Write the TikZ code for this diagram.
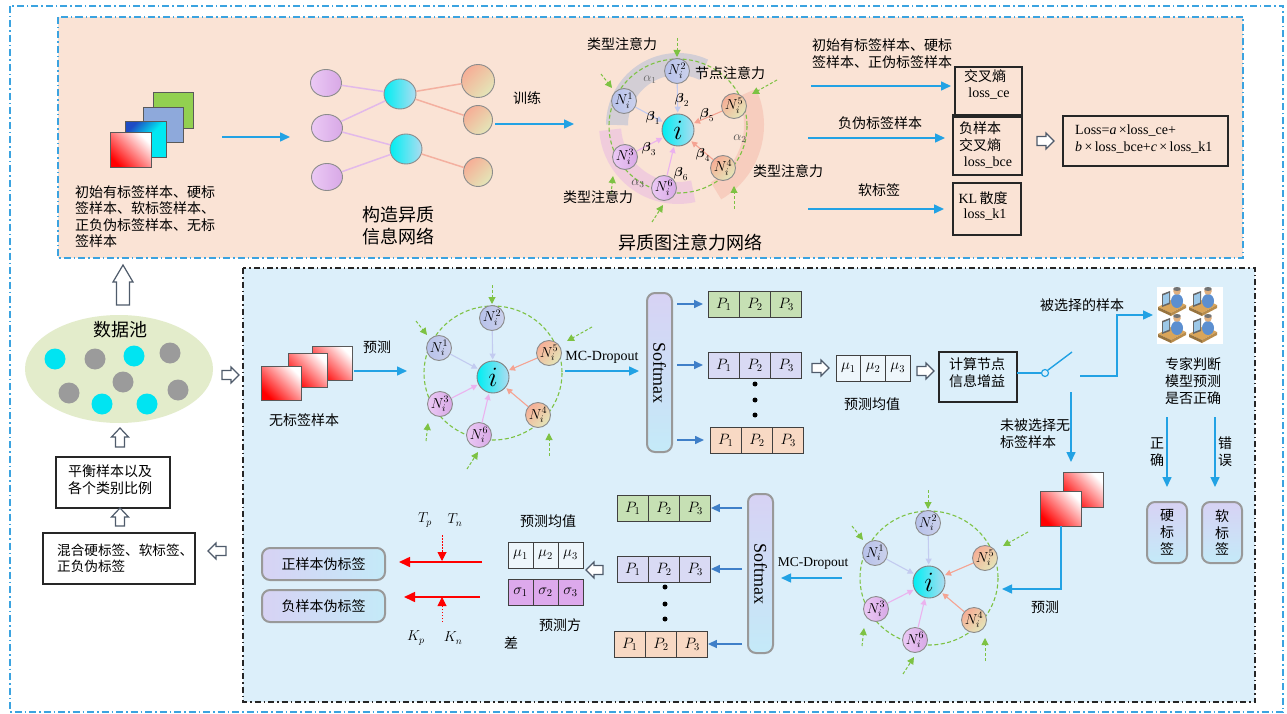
\documentclass[tikz,border=0pt]{standalone}
\usepackage{fix-cm}
\usepackage{amsmath}
\usepackage{fontspec}
\setmainfont{Liberation Serif}
\newfontfamily\zhfont{Noto Sans CJK SC}
\usetikzlibrary{arrows.meta,calc,shapes.geometric}

% colours
\definecolor{skyline}{HTML}{22A2E4}
\definecolor{frameblue}{HTML}{3BA3E0}
\definecolor{toppink}{HTML}{FAE3D5}
\definecolor{lowblue}{HTML}{DCEFFA}
\definecolor{poolgreen}{HTML}{E3ECCB}
\definecolor{dotcyan}{HTML}{00E4F2}
\definecolor{dotgray}{HTML}{9B9B9B}
\definecolor{steel}{HTML}{3F7FC8}
\definecolor{cellgreen}{HTML}{C6E0B4}
\definecolor{celllav}{HTML}{D9DAF4}
\definecolor{cellpeach}{HTML}{F8D9C4}
\definecolor{cellviolet}{HTML}{DDA9EC}
\definecolor{cellwhite}{HTML}{EEF6FB}
\definecolor{ringgreen}{HTML}{7DC243}
\definecolor{nbblue}{HTML}{B7C1EA}
\definecolor{nbblueR}{HTML}{CBD1EC}
\definecolor{nbpurple}{HTML}{EBC9F5}
\definecolor{nbpurpleR}{HTML}{D8A8E6}
\definecolor{nbsalmon}{HTML}{F6AE96}
\definecolor{nbcream}{HTML}{E4E6B8}
\definecolor{hubcyan}{HTML}{00EEF2}
\definecolor{hubpale}{HTML}{AEDCF1}
\definecolor{edgeblue}{HTML}{C3CBF0}
\definecolor{edgesalmon}{HTML}{F5A392}
\definecolor{edgepink}{HTML}{EBB2EE}
\definecolor{netpurple}{HTML}{E2B9EA}
\definecolor{netsalmon}{HTML}{F4B0A0}
\definecolor{capsuleL}{HTML}{D7D2F4}
\definecolor{capsuleR}{HTML}{C4EAF8}
\definecolor{hollowedge}{HTML}{4F5B6B}
\definecolor{bandblue}{HTML}{B4BED6}
\definecolor{bandpurple}{HTML}{E6B2E6}
\definecolor{bandsalmon}{HTML}{F4B4A4}
\definecolor{sqgreen}{HTML}{92D050}
\definecolor{sqslate}{HTML}{8EA9DB}
\definecolor{sqcyan}{HTML}{00E8F2}
\definecolor{sqdeep}{HTML}{1E4CC4}
\definecolor{deskc}{HTML}{D9A55A}
\definecolor{shirtc}{HTML}{5C8FD0}
\definecolor{skinc}{HTML}{E0B080}
\definecolor{screenc}{HTML}{9CC8E8}

\tikzset{
  zh/.style={inner sep=0pt, align=center, font=\zhfont\fontsize{14}{16.8}\selectfont},
  zhbig/.style={inner sep=0pt, align=center, font=\zhfont\fontsize{18}{21.5}\selectfont},
  rmtext/.style={inner sep=0pt, font=\rmfamily\fontsize{14}{17}\selectfont},
  greek/.style={inner sep=0pt, font=\fontsize{13}{13}\selectfont},
  skyarr/.style={draw=skyline, line width=1.5pt, -{Triangle[length=10pt,width=9pt]}},
  skywire/.style={draw=skyline, line width=1.4pt},
  steelarr/.style={draw=steel, line width=1.6pt, -{Triangle[length=9pt,width=8pt]}},
  redarr/.style={draw=red, line width=1.6pt, -{Triangle[length=11pt,width=10pt]}},
  reddot/.style={draw=red, line width=1pt, dash pattern=on 1.5pt off 1.5pt, -{Triangle[length=9pt,width=9pt]}},
  blackbox/.style={draw=black!85, line width=1.2pt, inner sep=0pt, outer sep=0pt, anchor=north west},
  hollowst/.style={draw=hollowedge, line width=1.2pt, fill=white, line join=miter},
  ringst/.style={draw=ringgreen, line width=1.1pt, dash pattern=on 4pt off 2.5pt},
  greenarr/.style={draw=ringgreen, line width=1pt, dash pattern=on 3pt off 2pt, -{Triangle[length=7pt,width=7pt]}},
  gnode/.style={circle, draw=black!45, line width=0.9pt, minimum size=25pt, inner sep=0pt, font=\fontsize{14.4}{14.4}\selectfont},
  gblue/.style={gnode, left color=nbblue, right color=nbblueR},
  gpurple/.style={gnode, left color=nbpurple, right color=nbpurpleR},
  warmshade/.style={top color=nbsalmon, bottom color=nbcream, shading angle=45},
  gorange/.style={gnode, warmshade},
  ghub/.style={circle, draw=black!50, line width=0.9pt, minimum size=32pt, inner sep=0pt, left color=hubcyan, right color=hubpale, font=\fontsize{28}{28}\selectfont},
  nbarr/.style={line width=1.1pt, -{Triangle[length=6pt,width=6pt]}, shorten >=1pt},
  netL/.style={ellipse, draw=black!45, line width=0.9pt, minimum width=31pt, minimum height=27pt, inner sep=0pt, left color=nbpurple, right color=nbpurpleR},
  netM/.style={ellipse, draw=black!45, line width=0.9pt, minimum width=32pt, minimum height=30pt, inner sep=0pt, left color=hubcyan, right color=hubpale},
  netR/.style={circle, draw=black!45, line width=0.9pt, inner sep=0pt, warmshade},
  netedgeP/.style={draw=netpurple, line width=1.5pt},
  netedgeS/.style={draw=netsalmon, line width=1.5pt},
  cell/.style={draw=black!75, line width=1pt, inner sep=0pt, outer sep=0pt, minimum height=26pt, font=\fontsize{15}{15}\selectfont},
  capsule/.style={draw=black!40, line width=2pt, rounded corners=8pt, inner sep=0pt, left color=capsuleL, right color=capsuleR},
  vcapsule/.style={draw=black!40, line width=2pt, rounded corners=8pt, inner sep=0pt, top color=capsuleL, bottom color=capsuleR},
  sqedge/.style={draw=black!65, line width=1pt},
  redsq/.style={bottom color=red, top color=white, shading angle=-45},
  cyansq/.style={top color=sqdeep, bottom color=sqcyan, middle color=sqcyan, shading angle=45},
  dotst/.style={circle, inner sep=0pt, minimum size=21pt},
  bigdot/.style={circle, fill=black, inner sep=0pt, minimum size=5pt},
}

% hollow block arrow: tail x, tail y, direction, length, shaft half width, head half width, head length
\newcommand\hollowarrow[7]{%
  \draw[hollowst, shift={(#1,#2)}, rotate=#3]
    (0,-#5) -- (#4-#7,-#5) -- (#4-#7,-#6) -- (#4,0) -- (#4-#7,#6) -- (#4-#7,#5) -- (0,#5) -- cycle;}

% row of three labelled cells: name, left, top, cell width, fill, symbol
\newcommand\cellrow[6]{%
  \node[cell, fill=#5, minimum width=#4, anchor=north west] (#1a) at (#2,#3) {$#6_1$};
  \node[cell, fill=#5, minimum width=#4, anchor=west] (#1b) at (#1a.east) {$#6_2$};
  \node[cell, fill=#5, minimum width=#4, anchor=west] (#1c) at (#1b.east) {$#6_3$};}

% attention graph around a hub: prefix, hub x, hub y
\newcommand\hgraph[3]{%
  \begin{scope}[shift={(#2,#3)}]
    \draw[ringst] (0,-4) ellipse[x radius=69, y radius=67];
    \node[ghub] (#1i) at (0,0) {$i$};
    \node[gblue]   (#1n1) at (-54,-29) {$N_i^1$};
    \node[gblue]   (#1n2) at (-1,-59)  {$N_i^2$};
    \node[gpurple] (#1n3) at (-53,27)  {$N_i^3$};
    \node[gorange] (#1n4) at (45,38)   {$N_i^4$};
    \node[gorange] (#1n5) at (56,-24)  {$N_i^5$};
    \node[gpurple] (#1n6) at (-14,58)  {$N_i^6$};
    \draw[nbarr, draw=edgeblue]   (#1n1) -- (#1i);
    \draw[nbarr, draw=edgeblue]   (#1n2) -- (#1i);
    \draw[nbarr, draw=edgepink]   (#1n3) -- (#1i);
    \draw[nbarr, draw=edgepink]   (#1n6) -- (#1i);
    \draw[nbarr, draw=edgesalmon] (#1n4) -- (#1i);
    \draw[nbarr, draw=edgesalmon] (#1n5) -- (#1i);
    \coordinate (#1g1s) at (-77,-56); \coordinate (#1g1e) at (-66,-42);
    \coordinate (#1g2s) at (-1,-92);  \coordinate (#1g2e) at (-1,-73);
    \coordinate (#1g3s) at (-67,64);  \coordinate (#1g3e) at (-65,46);
    \coordinate (#1g4s) at (56,79);   \coordinate (#1g4e) at (56,56);
    \coordinate (#1g5s) at (99,-50);  \coordinate (#1g5e) at (74,-36);
    \coordinate (#1g6s) at (-26,92);  \coordinate (#1g6e) at (-15,75);
    \draw[greenarr] (#1g1s) -- (#1g1e);
    \draw[greenarr] (#1g2s) -- (#1g2e);
    \draw[greenarr] (#1g3s) -- (#1g3e);
    \draw[greenarr] (#1g4s) -- (#1g4e);
    \draw[greenarr] (#1g5s) -- (#1g5e);
    \draw[greenarr] (#1g6s) -- (#1g6e);
  \end{scope}}

% one expert seated at a desk
\newcommand\expertfig[2]{%
  \begin{scope}[shift={(#1,#2)}]
    \fill[deskc] (-14,5) -- (-1,11) -- (14,3) -- (1,-3) -- cycle;
    \fill[deskc!70!black] (-14,5) -- (-1,11) -- (-1,14) -- (-14,8) -- cycle;
    \fill[deskc!85!black] (-1,11) -- (14,3) -- (14,6) -- (-1,14) -- cycle;
    \fill[black!60] (-10,-8) -- (-2,-11) -- (-2,2) -- (-10,5) -- cycle;
    \fill[screenc] (-9,-6.5) -- (-3,-9) -- (-3,0.5) -- (-9,3) -- cycle;
    \fill[shirtc] (5,-1) ellipse[x radius=6, y radius=7];
    \fill[skinc] (5,-11) circle[radius=3.8];
    \fill[black!55] (5,-13) ellipse[x radius=3.8, y radius=2];
  \end{scope}}

\begin{document}
\begin{tikzpicture}[x=1pt,y=-1pt]
\useasboundingbox (0,0) rectangle (1287,714);
\fill[white] (0,0) rectangle (1287,714);

% ---------- frames ----------
\draw[frameblue, line width=1.6pt, dash pattern=on 7pt off 3pt on 1.5pt off 3pt] (10,6) rectangle (1283,712);
\draw[frameblue, fill=toppink, line width=1.6pt, dash pattern=on 7pt off 3pt on 1.5pt off 3pt] (58,17) rectangle (1243,258);
\draw[black!85, fill=lowblue, line width=1.4pt, dash pattern=on 6pt off 3pt on 1.5pt off 3pt] (243,268) rectangle (1255,702);

% ---------- training stage ----------
\draw[sqedge, fill=sqgreen] (153,93) rectangle (193,129);
\draw[sqedge, fill=sqslate] (143,108) rectangle (183,143);
\draw[sqedge, cyansq] (125,122) rectangle (166,158);
\draw[sqedge, redsq] (110,133) rectangle (151,168);
\node[zh, align=left, anchor=west, font=\zhfont\fontsize{14}{16.5}\selectfont] (stocktxt) at (75,216.5)
  {初始有标签样本、硬标\\签样本、软标签样本、\\正负伪标签样本、无标\\签样本};
\coordinate (sa) at (222,137); \coordinate (sb) at (290,137);
\draw[skyarr] (sa) -- (sb);

% heterogeneous information network
\node[netL] (L1) at (326,83) {};
\node[netL] (L2) at (327,128) {};
\node[netL] (L3) at (327,177) {};
\node[netM] (M1) at (400,94) {};
\node[netM] (M2) at (406,149) {};
\node[netR, minimum size=33pt] (R1) at (478,81) {};
\node[netR, minimum size=29pt] (R2) at (478,120) {};
\node[netR, minimum size=29pt] (R3) at (478,172) {};
\draw[netedgeP] (L1) -- (M1);
\draw[netedgeP] (L2) -- (M1);
\draw[netedgeP] (L2) -- (M2);
\draw[netedgeP] (L3) -- (M2);
\draw[netedgeS] (M1) -- (R1);
\draw[netedgeS] (M1) -- (R2);
\draw[netedgeS] (M2) -- (R3);
\node[zhbig] (netcap) at (398,225.5) {构造异质\\信息网络};
\node[zh] (traintxt) at (527,98) {训练};
\coordinate (ta) at (495,124); \coordinate (tb) at (574,124);
\draw[skyarr] (ta) -- (tb);

% type attention bands
\draw[bandblue, line width=22pt, opacity=.55] (678,125) ++(180:61) arc[start angle=180, end angle=295, radius=61];
\draw[bandpurple, line width=22pt, opacity=.45] (678,125) ++(77:68) arc[start angle=77, end angle=176, radius=68];
\draw[bandsalmon, line width=20pt, opacity=.45] (678,125) ++(-25:76) arc[start angle=-25, end angle=60, radius=76];
\hgraph{t}{678}{130}
\node[greek, text=black!60] (al1) at (650,80) {$\alpha_1$};
\node[greek, text=black!70] (al2) at (740,139) {$\alpha_2$};
\node[greek, text=black!70] (al3) at (638,184) {$\alpha_3$};
\node[greek] (be1) at (653,118) {$\boldsymbol{\beta}_1$};
\node[greek] (be2) at (682,100) {$\boldsymbol{\beta}_2$};
\node[greek] (be3) at (649,149) {$\boldsymbol{\beta}_3$};
\node[greek] (be4) at (703,155) {$\boldsymbol{\beta}_4$};
\node[greek] (be5) at (707,115) {$\boldsymbol{\beta}_5$};
\node[greek] (be6) at (681,174) {$\boldsymbol{\beta}_6$};
\node[zh] (typeA) at (622,44) {类型注意力};
\node[zh] (nodeA) at (730,73) {节点注意力};
\node[zh] (typeB) at (788,171) {类型注意力};
\node[zh] (typeC) at (598,197) {类型注意力};
\node[zhbig] (hgcap) at (690,243) {异质图注意力网络};

% losses
\node[zh, align=left, anchor=west] (lossin) at (812,53.5) {初始有标签样本、硬标\\签样本、正伪标签样本};
\node[blackbox, minimum width=67pt, minimum height=50pt] (ce) at (955,67) {};
\node[blackbox, minimum width=69pt, minimum height=60pt] (bce) at (953,115) {};
\node[blackbox, minimum width=68pt, minimum height=52pt] (kl) at (953,183) {};
\node[zh] (ceA) at (985,76) {交叉熵};
\node[rmtext] (ceB) at (989,94) {loss\_ce};
\node[zh] (bceA) at (980,128) {负样本};
\node[zh] (bceB) at (980,145) {交叉熵};
\node[rmtext] (bceC) at (988,163) {loss\_bce};
\node[zh] (klA) at (983,198) {{\rmfamily KL}\,散度};
\node[rmtext] (klB) at (985,215) {loss\_k1};
\coordinate (la) at (811,86); \draw[skyarr, shorten >=4pt] (la) -- (ce.west |- la);
\node[zh] (negtxt) at (880,123) {负伪标签样本};
\coordinate (lb) at (808,138); \draw[skyarr, shorten >=8pt] (lb) -- (bce.west |- lb);
\node[zh] (softtxt) at (879,190) {软标签};
\coordinate (lc) at (808,209); \draw[skyarr, shorten >=9pt] (lc) -- (kl.west |- lc);
\hollowarrow{1037}{141}{0}{17}{4.5}{8}{8}
\node[blackbox, minimum width=165pt, minimum height=50pt] (loss) at (1063,116) {};
\node[rmtext, align=left, anchor=west] (losstxt) at (1075,139)
  {Loss=\textit{a}\,×loss\_ce+\\\textit{b}\,×\,loss\_bce+\textit{c}\,×\,loss\_k1};

% ---------- data pool column ----------
\hollowarrow{123}{305}{90}{40}{6.5}{10}{17}
\node[ellipse, fill=poolgreen, minimum width=188pt, minimum height=108pt, inner sep=0pt] (pool) at (119,369) {};
\node[zhbig] (pooltxt) at (120,330) {数据池};
\node[dotst, fill=dotcyan] (d1) at (55,359) {};
\node[dotst, fill=dotgray] (d2) at (95,359) {};
\node[dotst, fill=dotcyan] (d3) at (134,356) {};
\node[dotst, fill=dotgray] (d4) at (170,353) {};
\node[dotst, fill=dotgray] (d5) at (123,382) {};
\node[dotst, fill=dotgray] (d6) at (69,393) {};
\node[dotst, fill=dotcyan] (d7) at (102,404) {};
\node[dotst, fill=dotcyan] (d8) at (147,404) {};
\node[dotst, fill=dotgray] (d9) at (178,390) {};
\hollowarrow{120}{447}{90}{19}{4.5}{8.5}{9}
\node[blackbox, minimum width=114pt, minimum height=51pt] (bal) at (56,457) {};
\node[zh] (baltxt) at (110,480) {平衡样本以及\\各个类别比例};
\hollowarrow{120}{526}{90}{18}{4.5}{8.5}{9}
\node[blackbox, minimum width=152pt, minimum height=51pt] (mix) at (43,533) {};
\node[zh, align=left, anchor=west, font=\zhfont\fontsize{13.6}{15.5}\selectfont] (mixtxt) at (57,558.5) {混合硬标签、软标签、\\正负伪标签};
\hollowarrow{226}{551}{180}{18}{4.5}{8}{8}
\hollowarrow{222}{375}{0}{17}{4.5}{8}{8}

% ---------- prediction on unlabelled samples ----------
\draw[sqedge, redsq] (312,346) rectangle (352,380);
\draw[sqedge, redsq] (288,353) rectangle (327,387);
\draw[sqedge, redsq] (261,366) rectangle (301,400);
\node[zh] (unltxt) at (304,420) {无标签样本};
\node[zh] (predA) at (377,347) {预测};
\coordinate (pa) at (354,371); \coordinate (pb) at (407,371);
\draw[skyarr] (pa) -- (pb);
\hgraph{m}{493}{377}
\node[rmtext] (mcA) at (602,357) {MC-Dropout};
\coordinate (mca) at (565,371); \coordinate (mcb) at (639,371);
\draw[skyarr] (mca) -- (mcb);

\node[vcapsule, minimum width=25pt, minimum height=159pt] (smA) at (659.5,372.5) {};
\node[rotate=-90, inner sep=0pt, font=\rmfamily\fontsize{18}{18}\selectfont] (smAt) at (smA) {Softmax};
\cellrow{ra}{708}{291}{31.3pt}{cellgreen}{P}
\cellrow{rb}{708}{352}{31.3pt}{celllav}{P}
\cellrow{rc}{710}{427}{31.3pt}{cellpeach}{P}
\draw[steelarr, shorten <=4pt, shorten >=5pt] (smA.east |- raa.west) -- (raa.west);
\draw[steelarr, shorten <=4pt, shorten >=5pt] (smA.east |- rba.west) -- (rba.west);
\draw[steelarr, shorten <=4pt, shorten >=6pt] (smA.east |- rca.west) -- (rca.west);
\node[bigdot] (dA1) at (755,384) {};
\node[bigdot] (dA2) at (755,400) {};
\node[bigdot] (dA3) at (755,415) {};
\hollowarrow{812}{368}{0}{17}{4.5}{8}{8}
\cellrow{mu}{836}{355}{24.7pt}{cellwhite}{\mu}
\node[zh] (meanA) at (872,404) {预测均值};
\hollowarrow{917}{371}{0}{17}{4.5}{8}{8}
\node[blackbox, minimum width=78pt, minimum height=50pt] (gain) at (939,352) {};
\node[zh] (gaintxt) at (977,372.5) {计算节点\\信息增益};

% selection switch
\node[circle, draw=skyline, fill=lowblue, line width=1.2pt, minimum size=7pt, inner sep=0pt] (sw) at (1045,373) {};
\draw[skywire] (gain.east |- sw) -- (sw.west);
\coordinate (swtip) at (1072,352);
\draw[skywire] (sw.north east) -- (swtip);
\coordinate (swout) at (1080,376); \coordinate (swbend) at (1117,376); \coordinate (swup) at (1117,315);
\node[fill=white, minimum width=66pt, minimum height=57pt, inner sep=0pt, anchor=north west] (expert) at (1157,287) {};
\draw[skyarr, shorten >=4pt] (swout) -- (swbend) -- (swup) -- (expert.west |- swup);
\expertfig{1172}{302}
\expertfig{1203}{302}
\expertfig{1172}{329}
\expertfig{1203}{329}
\node[zh] (seltxt) at (1082,305) {被选择的样本};
\coordinate (ua) at (1071,392); \coordinate (ub) at (1071,462);
\draw[skyarr] (ua) -- (ub);
\node[zh, align=left, anchor=west] (unseltxt) at (1000,434) {未被选择无\\标签样本};
\node[zh] (judgetxt) at (1193,381) {专家判断\\模型预测\\是否正确};
\coordinate (oka) at (1167,417); \coordinate (okb) at (1167,487);
\draw[skyarr] (oka) -- (okb);
\coordinate (bada) at (1215,417); \coordinate (badb) at (1215,487);
\draw[skyarr] (bada) -- (badb);
\node[zh] (oktxt) at (1157,452) {正\\确};
\node[zh] (badtxt) at (1225,452) {错\\误};
\node[vcapsule, minimum width=40pt, minimum height=61pt] (hard) at (1167,532.5) {};
\node[zh] (hardtxt) at (hard) {硬\\标\\签};
\node[vcapsule, minimum width=40pt, minimum height=61pt] (soft) at (1222,532.5) {};
\node[zh] (softlbl) at (soft) {软\\标\\签};

% ---------- pseudo-labelling of unselected samples ----------
\draw[sqedge, redsq] (1063,472) rectangle (1103,507);
\draw[sqedge, redsq] (1040,491) rectangle (1081,526);
\coordinate (qa) at (1061,526); \coordinate (qb) at (1061,589); \coordinate (qc) at (1002,589);
\draw[skyarr] (qa) -- (qb) -- (qc);
\node[zh] (predB) at (1045,607) {预测};
\hgraph{b}{929}{582}
\node[rmtext, font=\rmfamily\fontsize{13.5}{16}\selectfont] (mcB) at (813,563) {MC-Dropout};
\coordinate (mcc) at (842,578); \coordinate (mcd) at (781,578);
\draw[skyarr] (mcc) -- (mcd);
\node[vcapsule, minimum width=25pt, minimum height=159pt] (smB) at (760.5,573.5) {};
\node[rotate=-90, inner sep=0pt, font=\rmfamily\fontsize{18}{18}\selectfont] (smBt) at (smB) {Softmax};
\cellrow{sa}{617}{495}{31.3pt}{cellgreen}{P}
\cellrow{sb}{617}{556}{31.3pt}{celllav}{P}
\cellrow{sc}{614}{631}{31.3pt}{cellpeach}{P}
\draw[steelarr, shorten <=5pt] (smB.west |- sac.east) -- (sac.east);
\draw[steelarr, shorten <=5pt] (smB.west |- sbc.east) -- (sbc.east);
\draw[steelarr, shorten <=5pt] (smB.west |- scc.east) -- (scc.east);
\node[bigdot] (dB1) at (665,587) {};
\node[bigdot] (dB2) at (665,604) {};
\node[bigdot] (dB3) at (665,619) {};
\hollowarrow{603}{570}{180}{17}{4.5}{8}{8}
\cellrow{mv}{508}{542}{25pt}{cellwhite}{\mu}
\cellrow{sg}{508}{579}{25pt}{cellviolet}{\sigma}
\node[zh] (meanB) at (548,521) {预测均值};
\node[zh] (varA) at (560,625) {预测方};
\node[zh] (varB) at (511,643) {差};

\node[capsule, minimum width=123pt, minimum height=32pt] (pos) at (323.5,564) {};
\node[zh] (postxt) at (pos) {正样本伪标签};
\node[capsule, minimum width=123pt, minimum height=32pt] (neg) at (323.5,606) {};
\node[zh] (negtxt2) at (neg) {负样本伪标签};
\coordinate (rpa) at (482,562); \draw[redarr, shorten >=13pt] (rpa) -- (pos.east |- rpa);
\coordinate (rna) at (480,597); \draw[redarr, shorten >=18pt] (rna) -- (neg.east |- rna);
\coordinate (tda) at (442,535); \coordinate (tdb) at (442,561);
\draw[reddot] (tda) -- (tdb);
\coordinate (kda) at (442,622); \coordinate (kdb) at (442,597);
\draw[reddot] (kda) -- (kdb);
\node[inner sep=0pt, font=\fontsize{14.4}{14.4}\selectfont] (Tp) at (425,520) {$T_p$};
\node[inner sep=0pt, font=\fontsize{14.4}{14.4}\selectfont] (Tn) at (455,520) {$T_n$};
\node[inner sep=0pt, font=\fontsize{14.4}{14.4}\selectfont] (Kp) at (416,638) {$K_p$};
\node[inner sep=0pt, font=\fontsize{14.4}{14.4}\selectfont] (Kn) at (453,638) {$K_n$};
\end{tikzpicture}
\end{document}
